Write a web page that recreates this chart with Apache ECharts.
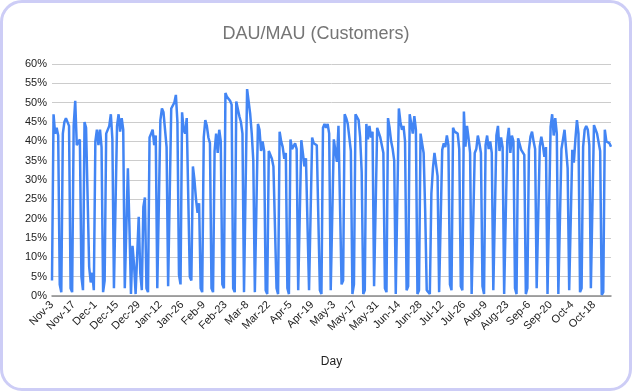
<!DOCTYPE html>
<html>
<head>
<meta charset="utf-8">
<script src="https://cdn.jsdelivr.net/npm/echarts@6/dist/echarts.min.js"></script>
<style>
  html, body { margin: 0; padding: 0; background: #fff; }
  #wrap { position: relative; width: 632px; height: 391px; }
  #chart { position: absolute; left: 0; top: 0; width: 632px; height: 391px; }
  #frame { position: absolute; left: 0; top: 0; width: 632px; height: 391px; box-sizing: border-box;
           border: 3px solid #cdcdf6; border-radius: 22px; pointer-events: none; }
</style>
</head>
<body>
<div id="wrap"><div id="chart"></div><div id="frame"></div></div>
<script>
// DAU/MAU daily values (%), one array per month, starting Nov-3
const nov = [4,47,42,43.5,41.5,3,1, 42,45,46,46,44,2,1, 44,50.5,39,39,40.5,5,1.5, 45,43.5,43,7.5,3.5,6,1.5];
const dec = [40,43,39,43,38.5,1,4, 42,42.5,44,47,40.5,2,2, 44,47,42.5,46,43,2,2.5, 33,18,0.5,13,8,0.5,1, 20.5,6,1.5];
const jan = [23,25.5,2,1, 41,42,43,39,41.5,2,1.5, 45.5,48.5,47.5,47,38.5,2.5,2, 48.5,48.5,50,52,45,5.5,3, 47.5,43,42,46,45.5,5];
const feb = [4, 33.5,30,25,21.5,24,2,1, 41,45.5,44,41,39.5,2,1, 37.5,42,37,43,40,3,2, 52.5,51.5,51,50.5,49.5,2,1];
const mar = [50.3,50.7,46.5,45,42,1,1, 53.5,53.5,47,42,35,1,1, 44.5,43,37.5,40,37.5,1.5,0.5, 37.5,37.5,35.5,33.5,34,2,0.5, 42.5,40,38.5];
const apr = [35.5,37,2,0.5, 40.5,38,38,39.5,38,1.5,1, 40.3,37,33.5,35.6,35.5,1.5,1, 41,39.5,40,39,38.5,1.5,0.5, 43.5,44.5,43.5,44.5,42];
const may = [1.5,1, 40.5,40.3,34.7,44,44,3,4, 47,46,44.5,41,37.5,0.5,3, 47,46.5,45.5,41,32,0.5,1.5, 44.5,40.5,44,41,42.5,2.5,3, 43.5];
const jun = [44,41,40.5,37,2,1, 46,43.5,40,38,35,0.5,1, 48.5,45,43,44,40,1.5,2.5, 47,47,42,46.5,43,0.5,1.5, 42,42.5,37];
const jul = [22,1.5,1,0.5, 26.5,33,37,37,31,1,1.5, 37.8,39.5,38.5,41.5,39,3,1.5, 43.5,42.5,42,42,38,2.5,1.5, 47.7,38.6,44,40.8,37,0.5];
const aug = [1, 37,38,41.5,39.5,37,2.5,0.5, 39,41.5,38,40,37,1.5,2, 41.5,44,37.5,41,38.5,0.5,1, 40,43.5,37,41.5,40,2,0.5, 40.8,40.5];
const sep = [37.8,38,36.5,0.5,2, 37.8,41.2,42.5,40,38,2,1.5, 38.6,41.2,39,36,38.5,0.5,1, 43.8,47,41.5,46,42,0.5,1, 38,40.5,43,38];
const oct = [33,1.5,1, 37.8,34.5,40.5,45.5,42,1,2, 38.6,43,44,43,39,2,2, 44.2,44.2,42,41.5,37.5,0.3,1, 43,40,40.3,39.5,38.6];

const monthNames = ['Nov','Dec','Jan','Feb','Mar','Apr','May','Jun','Jul','Aug','Sep','Oct'];
const monthData  = [nov, dec, jan, feb, mar, apr, may, jun, jul, aug, sep, oct];
const firstDay   = [3, 1, 1, 1, 1, 1, 1, 1, 1, 1, 1, 1];

const tickLabels = ['Nov-3','Nov-17','Dec-1','Dec-15','Dec-29','Jan-12','Jan-26','Feb-9','Feb-23',
  'Mar-8','Mar-22','Apr-5','Apr-19','May-3','May-17','May-31','Jun-14','Jun-28','Jul-12','Jul-26',
  'Aug-9','Aug-23','Sep-6','Sep-20','Oct-4','Oct-18'];
const yTicks = [0,5,10,15,20,25,30,35,40,45,50,55,60];

const categories = [];
const values = [];
monthData.forEach((arr, m) => {
  arr.forEach((v, k) => {
    categories.push(monthNames[m] + '-' + (firstDay[m] + k));
    values.push(v);
  });
});

const chart = echarts.init(document.getElementById('chart'), null, { renderer: 'canvas' });
const font = 'Liberation Sans, Arial, sans-serif';
chart.setOption({
  animation: false,
  backgroundColor: '#ffffff',
  title: {
    text: 'DAU/MAU (Customers)',
    left: 'center',
    top: 20,
    textStyle: { fontFamily: font, fontSize: 18, fontWeight: 'normal', color: '#757575' }
  },
  grid: { left: 52, right: 21, top: 64, bottom: 95, containLabel: false },
  xAxis: {
    type: 'category',
    data: categories,
    boundaryGap: false,
    name: 'Day',
    nameLocation: 'middle',
    nameGap: 60,
    nameTextStyle: { fontFamily: font, fontSize: 12, color: '#222222' },
    axisLine: { show: true, lineStyle: { color: '#8a8a8a', width: 1.5 } },
    axisTick: { show: false },
    splitLine: { show: false },
    axisLabel: {
      rotate: 45,
      margin: 7,
      fontFamily: font,
      fontSize: 11,
      color: '#222222',
      interval: (idx, val) => tickLabels.indexOf(val) >= 0,
      hideOverlap: false
    }
  },
  yAxis: {
    type: 'value',
    min: yTicks[0],
    max: yTicks[yTicks.length - 1],
    interval: 5,
    axisLine: { show: false },
    axisTick: { show: false },
    splitLine: { lineStyle: { color: '#cccccc', width: 1 } },
    axisLabel: {
      margin: 5,
      fontFamily: font,
      fontSize: 11,
      color: '#222222',
      formatter: '{value}%'
    }
  },
  series: [{
    type: 'line',
    data: values,
    showSymbol: false,
    symbol: 'none',
    lineStyle: { color: '#4285f4', width: 2.5 },
    itemStyle: { color: '#4285f4' }
  }]
});
</script>
</body>
</html>
